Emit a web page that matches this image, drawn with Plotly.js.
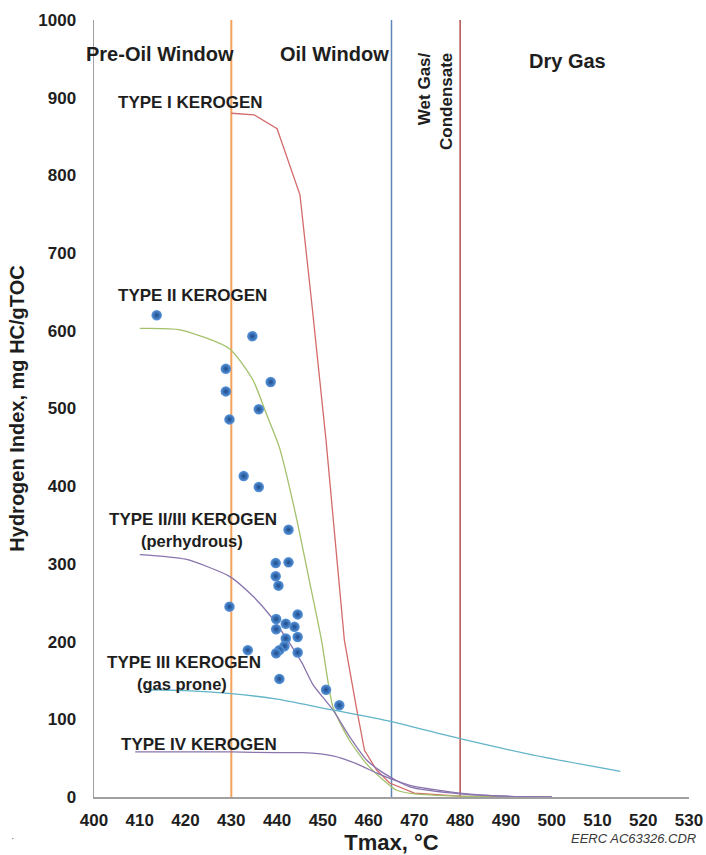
<!DOCTYPE html>
<html><head><meta charset="utf-8">
<script src="https://cdn.plot.ly/plotly-3.0.1.min.js"></script>
<style>body{margin:0;background:#fff}#chart{width:706px;height:855px}</style>
</head><body><div id="chart"></div>
<script>
// Sample data (Tmax, HI)
const sampleTmax = [413.7,434.6,428.8,428.8,429.6,438.6,436.0,432.7,436.0,442.5,439.7,442.5,439.7,440.3,429.6,444.5,439.8,441.9,443.8,439.8,441.9,444.5,441.6,440.5,439.8,444.5,433.6,440.5,450.7,453.6];
const sampleHI   = [620,593,551,522,486,534,499,413,399,344,301,302,284,272,245,235,229,223,219,216,204,206,194,189,185,186,189,152,138,118];

// Kerogen type curves
const type1X = [430,435,440,445,447.5,450.7,452.7,454.7,457.3,459.1,461.7,464.6,470,480,490,500];
const type1Y = [880,878,860,775,640,459,330,202,116,60,35,18,5,1,0,0];
const type2X = [410,419,429.6,434.7,437.6,440.5,444.2,447.1,449.7,452.2,455.8,459.5,463.2,466,470,480,490,500];
const type2Y = [603,601,577,537,494,450,360,277,202,116,73,43,22,9,4,1,0,0];
const type23X = [410,420,429.6,434.8,438.7,443.4,445.5,447.8,452.2,455.8,459.5,463.2,469,480,490,500];
const type23Y = [312,306,284,258,232,192,172,145,112,78,48,31,13,4,1,0];
const type3X = [411.5,420,430,440,450,465,480,496,515];
const type3Y = [138,137,133,126,114.5,97,75,54,33];
const type4X = [409,420,430,440,445.5,452.2,457.3,461.7,464.6,469.7,480,490,500];
const type4Y = [58,58,58,57,57,53,43,31,24,14,5,1,0];

// Window boundaries
const boundaryX = [430,465,480];
const boundaryColors = ['#f5a35c','#5f86b8','#b0504e'];

// Labels
const zoneLabels = ['Pre-Oil Window','Oil Window','Wet Gas/<br>Condensate','Dry Gas'];
const kerogenLabels = ['TYPE I KEROGEN','TYPE II KEROGEN','TYPE II/III KEROGEN','(perhydrous)','TYPE III KEROGEN','(gas prone)','TYPE IV KEROGEN'];

const FONT = 'Liberation Sans, Arial, sans-serif';
const traces = [];
boundaryX.forEach((bx,i)=>{
  traces.push({x:[bx,bx],y:[0,1000],mode:'lines',line:{color:boundaryColors[i],width:i===0?2:1.5},hoverinfo:'skip'});
});
const curve = (x,y,c,shape)=>({x:x,y:y,mode:'lines',line:{color:c,width:1.3,shape:shape||'spline',smoothing:0.6}});
traces.push(curve(type1X,type1Y,'#d46a6a','linear'));
traces.push(curve(type2X,type2Y,'#a3c16a'));
traces.push(curve(type23X,type23Y,'#8a74ae'));
traces.push(curve(type3X,type3Y,'#62b4c8'));
traces.push(curve(type4X,type4Y,'#8a74ae'));
traces.push({x:sampleTmax,y:sampleHI,mode:'markers',
  marker:{size:10.5,color:'#5a96dc',gradient:{type:'radial',color:'#1a4a8c'},line:{width:0}}});

const bold = (s)=>({family:FONT,size:s,color:'#1e1e1e',weight:'bold'});
const ann = (x,y,t,opt)=>Object.assign({x:x,y:y,xref:'paper',yref:'paper',text:t,showarrow:false,
  xanchor:'center',yanchor:'middle',font:bold(17)},opt||{});
const px = v=>(v-94)/595, py = v=>(797-v)/777;

const annotations = [
  ann(px(160),py(54),zoneLabels[0],{font:bold(20)}),
  ann(px(334),py(54),zoneLabels[1],{font:bold(20)}),
  ann(px(435),py(101),zoneLabels[2],{textangle:-90,align:'right',font:bold(17)}),
  ann(px(567),py(61),zoneLabels[3],{font:bold(20)}),
  ann(px(190),py(102),kerogenLabels[0]),
  ann(px(192),py(296),kerogenLabels[1]),
  ann(px(193),py(519),kerogenLabels[2]),
  ann(px(192),py(541),kerogenLabels[3],{font:bold(16.5)}),
  ann(px(184),py(662),kerogenLabels[4]),
  ann(px(182),py(684),kerogenLabels[5],{font:bold(16.5)}),
  ann(px(199),py(744),kerogenLabels[6]),
  ann(px(698),py(839),'<i>EERC AC63326.CDR</i>',{xanchor:'right',font:{family:FONT,size:13,color:'#3a3a3a'}}),
  ann(px(12),py(839),'·',{font:{family:FONT,size:10,color:'#666'}})
];

const layout = {
  width:706,height:855,showlegend:false,
  margin:{l:94,r:17,t:20,b:58},
  paper_bgcolor:'#fff',plot_bgcolor:'#fff',
  xaxis:{range:[400,530],dtick:10,tick0:400,showgrid:false,zeroline:false,showline:true,linecolor:'#a0a0a0',linewidth:1.5,
    ticks:'outside',ticklen:7,tickcolor:'rgba(0,0,0,0)',tickfont:bold(17),
    title:{text:'Tmax, °C',font:bold(22),standoff:6}},
  yaxis:{range:[0,1000],dtick:100,showgrid:false,zeroline:false,showline:true,linecolor:'#a0a0a0',linewidth:1.5,
    ticks:'outside',ticklen:13,tickcolor:'rgba(0,0,0,0)',tickfont:bold(17),
    title:{text:'Hydrogen Index, mg HC/gTOC',font:bold(20),standoff:8}},
  annotations:annotations
};
Plotly.newPlot('chart',traces,layout,{displayModeBar:false,staticPlot:true});
</script></body></html>
